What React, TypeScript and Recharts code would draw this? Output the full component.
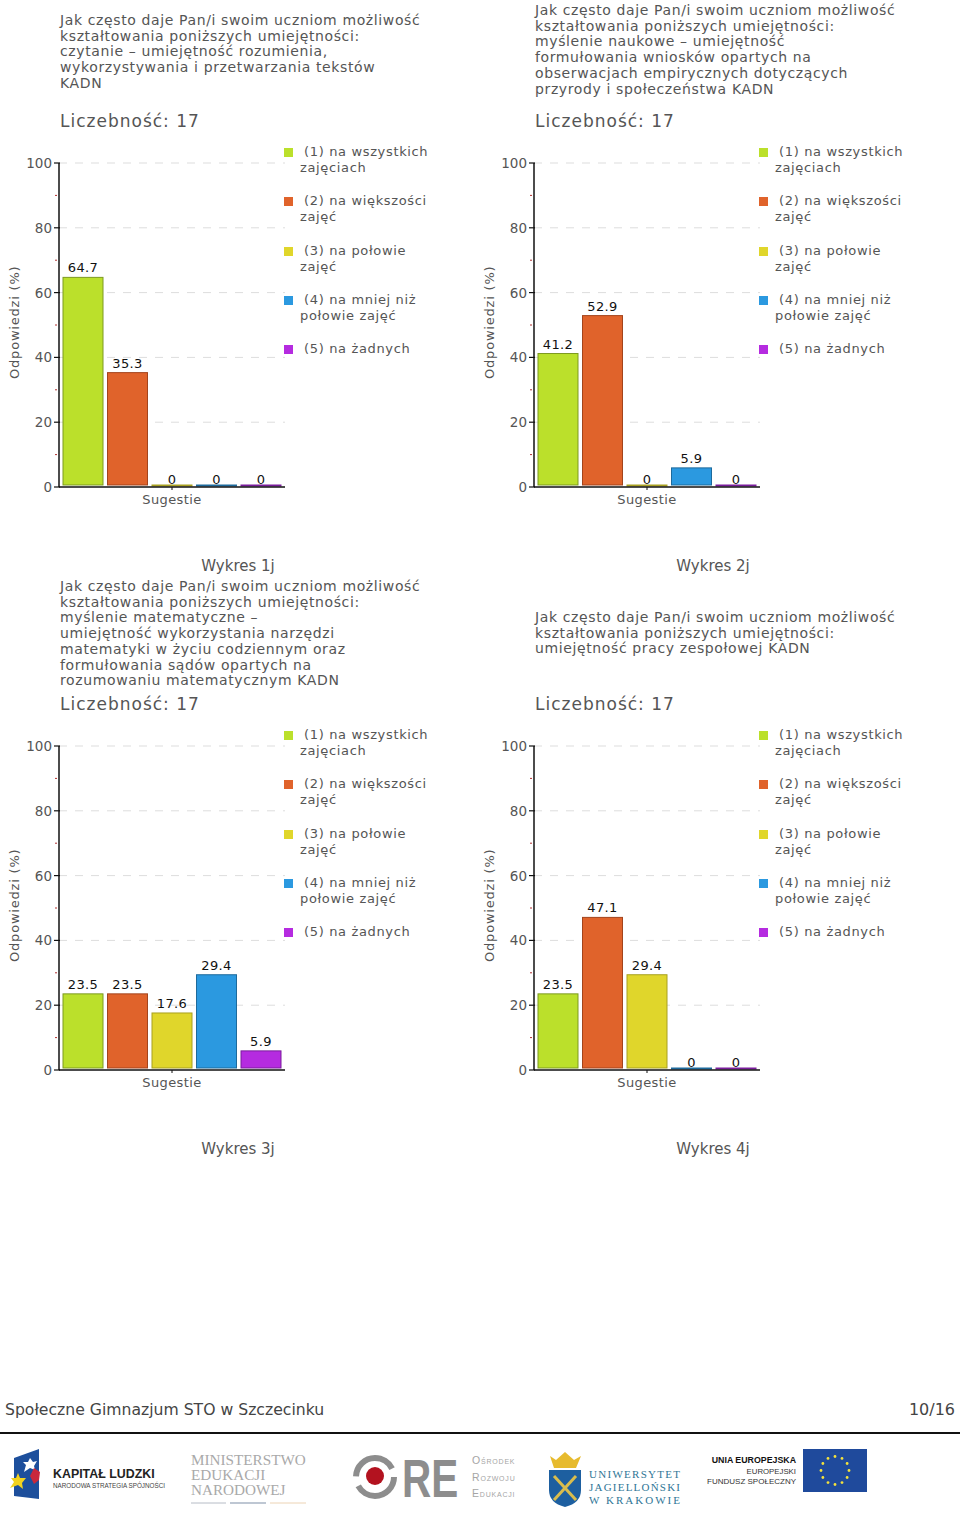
import React from "react";
import { BarChart, Bar, XAxis, YAxis, CartesianGrid, Legend, LabelList } from "recharts";

const categories = ["Sugestie"];
const seriesKeys = ["s1", "s2", "s3", "s4", "s5"];
const seriesNames = [
    "(1) na wszystkich zajęciach",
    "(2) na większości zajęć",
    "(3) na połowie zajęć",
    "(4) na mniej niż połowie zajęć",
    "(5) na żadnych",
];
const seriesFill = ["#bbe02b", "#e0632b", "#e0d62b", "#2b99e0", "#b52be0"];
const seriesStroke = ["#7d9a20", "#a3441c", "#a8a020", "#1d6a9c", "#7a1d9c"];

const chart1Values = [64.7, 35.3, 0, 0, 0];
const chart2Values = [41.2, 52.9, 0, 5.9, 0];
const chart3Values = [23.5, 23.5, 17.6, 29.4, 5.9];
const chart4Values = [23.5, 47.1, 29.4, 0, 0];

const chart1Title = [
    "Jak często daje Pan/i swoim uczniom możliwość",
    "kształtowania poniższych umiejętności:",
    "czytanie – umiejętność rozumienia,",
    "wykorzystywania i przetwarzania tekstów",
    "KADN",
];
const chart2Title = [
    "Jak często daje Pan/i swoim uczniom możliwość",
    "kształtowania poniższych umiejętności:",
    "myślenie naukowe – umiejętność",
    "formułowania wniosków opartych na",
    "obserwacjach empirycznych dotyczących",
    "przyrody i społeczeństwa KADN",
];
const chart3Title = [
    "Jak często daje Pan/i swoim uczniom możliwość",
    "kształtowania poniższych umiejętności:",
    "myślenie matematyczne –",
    "umiejętność wykorzystania narzędzi",
    "matematyki w życiu codziennym oraz",
    "formułowania sądów opartych na",
    "rozumowaniu matematycznym KADN",
];
const chart4Title = [
    "Jak często daje Pan/i swoim uczniom możliwość",
    "kształtowania poniższych umiejętności:",
    "umiejętność pracy zespołowej KADN",
];

const yTicks = [0, 10, 20, 30, 40, 50, 60, 70, 80, 90, 100];
const gridValues = [20, 40, 60, 80, 100];

const font = "'DejaVu Sans', Verdana, sans-serif";
const textColor = "#555";

function YTick({ x, y, payload }: any) {
    const major = payload.value % 20 === 0;
    if (!major) {
        return <line x1={x - 2} x2={x} y1={y} y2={y} stroke="#b03030" strokeWidth={1} />;
    }
    return (
        <g>
            <line x1={x - 3} x2={x + 3} y1={y} y2={y} stroke="#111" strokeWidth={1.2} />
            <text x={x - 5} y={y + 5} textAnchor="end" fontSize={13.5} fill={textColor} fontFamily={font}>
                {payload.value}
            </text>
        </g>
    );
}

// bars stop just short of the axis, as in the original
function BarShape({ x, y, width, height, fill, stroke }: any) {
    return <rect x={x} y={y} width={width} height={Math.max(height - 2, 1)} fill={fill} stroke={stroke} />;
}

function ValueLabel({ x, y, width, value }: any) {
    return (
        <text x={x + width / 2} y={value === 0 ? y - 1 : y - 5} textAnchor="middle" fontSize={13} fontFamily={font} fill="#111" letterSpacing={0.4}>
            {value}
        </text>
    );
}

function LegendBlock() {
    return (
        <div style={{ position: "relative", width: 195, height: 260, fontFamily: font, fontSize: 13, lineHeight: "16px", color: textColor, letterSpacing: 0.65 }}>
            {seriesNames.map((name, i) => (
                <div key={name} style={{ position: "absolute", left: 0, top: i * 49.3 }}>
                    <div style={{ position: "absolute", left: -1, top: 4, width: 9, height: 9, background: seriesFill[i] }} />
                    <div style={{ position: "absolute", left: 15, top: 0, width: 138, textIndent: 4, textAlign: "left" }}>{name}</div>
                </div>
            ))}
        </div>
    );
}

function Panel({ left, top, title, titleTop, values, caption }: any) {
    const row: any = { name: categories[0] };
    seriesKeys.forEach((k, i) => {
        row[k] = values[i];
    });
    return (
        <div style={{ position: "absolute", left, top, width: 480, height: 580 }}>
            {title.map((line: string, i: number) => (
                <div key={i} style={{ position: "absolute", left: 60, top: titleTop + i * 15.7, fontFamily: font, fontSize: 14, lineHeight: "16px", letterSpacing: 0.62, color: textColor, whiteSpace: "nowrap" }}>
                    {line}
                </div>
            ))}
            <div style={{ position: "absolute", left: 60, top: 111, fontFamily: font, fontSize: 17, lineHeight: "20px", color: textColor, letterSpacing: 1, whiteSpace: "nowrap" }}>
                Liczebność: 17
            </div>
            <div style={{ position: "absolute", left: 0, top: 140 }}>
                <BarChart
                    width={480}
                    height={380}
                    data={[row]}
                    margin={{ top: 23, right: 0, bottom: 0, left: 0 }}
                    barCategoryGap={4}
                    barGap={4.5}
                >
                    <CartesianGrid horizontal vertical={false} horizontalValues={gridValues} stroke="#ddd" strokeDasharray="8 8" />
                    <XAxis
                        dataKey="name"
                        height={33}
                        axisLine={{ stroke: "#111", strokeWidth: 1.5 }}
                        tickLine={{ stroke: "#111" }}
                        tickSize={3}
                        tickMargin={5}
                        tick={{ fill: textColor, fontSize: 13, fontFamily: font, letterSpacing: 0.4 }}
                    />
                    <YAxis
                        width={59}
                        domain={[0, 100]}
                        ticks={yTicks}
                        interval={0}
                        tickLine={false}
                        tickSize={0}
                        axisLine={{ stroke: "#111", strokeWidth: 1.5 }}
                        tick={<YTick />}
                        label={{ value: "Odpowiedzi (%)", angle: -90, position: "insideLeft", dx: 9, dy: 54, fill: textColor, fontSize: 13, fontFamily: font, letterSpacing: 0.8 }}
                    />
                    <Legend layout="vertical" align="right" verticalAlign="top" width={195} wrapperStyle={{ top: 4 }} content={() => <LegendBlock />} />
                    {seriesKeys.map((k, i) => (
                        <Bar key={k} dataKey={k} name={seriesNames[i]} fill={seriesFill[i]} stroke={seriesStroke[i]} minPointSize={2} shape={<BarShape />} isAnimationActive={false}>
                            <LabelList dataKey={k} content={<ValueLabel />} />
                        </Bar>
                    ))}
                </BarChart>
            </div>
            <div style={{ position: "absolute", left: 0, width: 476, top: 557, textAlign: "center", fontFamily: font, fontSize: 15, lineHeight: "18px", color: textColor }}>
                {caption}
            </div>
        </div>
    );
}

function Logos() {
    const euStars = [0, 1, 2, 3, 4, 5, 6, 7, 8, 9, 10, 11];
    const serif = "'Liberation Serif', serif";
    const sans = "'Liberation Sans', sans-serif";
    return (
        <svg width={960} height={88} viewBox="0 1433 960 88" style={{ position: "absolute", left: 0, top: 1433 }}>
            <polygon points="14,1458 39,1449 39,1499 14,1496" fill="#1d4f9c" />
            <polygon points="30,1458 33,1462 37,1461 34,1466 35,1470 30,1468 24,1472 26,1465 23,1462 28,1462" fill="#fff" />
            <polygon points="18,1473 20,1478 26,1478 22,1483 23,1489 18,1485 10,1488 14,1482 11,1478 16,1478" fill="#f2d21e" />
            <polygon points="34,1468 40,1472 39,1480 34,1484 30,1476" fill="#c8283c" />
            <text x={53} y={1478} fontFamily={sans} fontWeight={700} fontSize={12.4} fill="#222">KAPITAŁ LUDZKI</text>
            <text x={53} y={1488} fontFamily={sans} fontSize={6.3} fill="#444">NARODOWA STRATEGIA SPÓJNOŚCI</text>

            <g fontFamily={serif} fill="#a9a9a9">
                <text x={191} y={1465} fontSize={15.2}>MINISTERSTWO</text>
                <text x={191} y={1480} fontSize={15.2}>EDUKACJI</text>
                <text x={191} y={1495} fontSize={15.2}>NARODOWEJ</text>
            </g>
            <line x1={191} x2={226} y1={1503} y2={1503} stroke="#b6bcc6" strokeWidth={1} />
            <line x1={230} x2={266} y1={1503} y2={1503} stroke="#a9b4c4" strokeWidth={1.5} />
            <line x1={270} x2={306} y1={1503} y2={1503} stroke="#ecd3b4" strokeWidth={1} />

            <circle cx={375} cy={1477} r={19} fill="none" stroke="#8d8d8d" strokeWidth={6} strokeDasharray="50 10" />
            <circle cx={375} cy={1476} r={9} fill="#b3121f" />
            <text transform="translate(402 1497) scale(0.75 1)" fontFamily={sans} fontWeight={700} fontSize={54} fill="#8d8d8d">RE</text>
            <g fontFamily={sans} fontSize={10.5} fill="#a5a5a5" letterSpacing={0.8} style={{ fontVariant: "small-caps" }}>
                <text x={472} y={1464}>Ośrodek</text>
                <text x={472} y={1481}>Rozwoju</text>
                <text x={472} y={1497}>Edukacji</text>
            </g>

            <polygon points="550,1456 556,1460 565,1452 574,1460 581,1456 576,1468 554,1468" fill="#e7bb2e" />
            <path d="M549 1470 H581 V1490 Q581 1503 565 1507 Q549 1503 549 1490 Z" fill="#1d5fa0" />
            <line x1={554} y1={1476} x2={576} y2={1500} stroke="#d9bd4d" strokeWidth={3} />
            <line x1={576} y1={1476} x2={554} y2={1500} stroke="#d9bd4d" strokeWidth={3} />
            <g fontFamily={serif} fontSize={11} fill="#2f7596">
                <text x={589} y={1478} textLength={91}>UNIWERSYTET</text>
                <text x={589} y={1491} textLength={91}>JAGIELLOŃSKI</text>
                <text x={589} y={1504} textLength={91}>W KRAKOWIE</text>
            </g>

            <g fontFamily={sans} textAnchor="end" fill="#333">
                <text x={796} y={1463} fontSize={8.8} fontWeight={700} fill="#111">UNIA EUROPEJSKA</text>
                <text x={796} y={1474} fontSize={7.8}>EUROPEJSKI</text>
                <text x={796} y={1484} fontSize={8}>FUNDUSZ SPOŁECZNY</text>
            </g>
            <rect x={803} y={1449} width={64} height={43} fill="#1f4a9c" />
            {euStars.map((s) => (
                <circle key={s} cx={835 + 14 * Math.sin((s * Math.PI) / 6)} cy={1470.5 - 14 * Math.cos((s * Math.PI) / 6)} r={1.4} fill="#f4e23c" />
            ))}
        </svg>
    );
}

export default function App() {
    return (
        <div style={{ position: "absolute", left: 0, top: 0, width: 960, height: 1521, background: "#fff", overflow: "hidden" }}>
            <Panel left={0} top={0} title={chart1Title} titleTop={12} values={chart1Values} caption="Wykres 1j" />
            <Panel left={475} top={0} title={chart2Title} titleTop={2} values={chart2Values} caption="Wykres 2j" />
            <Panel left={0} top={583} title={chart3Title} titleTop={-5} values={chart3Values} caption="Wykres 3j" />
            <Panel left={475} top={583} title={chart4Title} titleTop={26} values={chart4Values} caption="Wykres 4j" />
            <div style={{ position: "absolute", left: 5, top: 1400, fontFamily: font, fontSize: 15.65, lineHeight: "20px", color: "#444" }}>
                Społeczne Gimnazjum STO w Szczecinku
            </div>
            <div style={{ position: "absolute", right: 5, top: 1400, fontFamily: font, fontSize: 16, lineHeight: "20px", color: "#444" }}>10/16</div>
            <div style={{ position: "absolute", left: 0, top: 1432, width: 960, height: 2, background: "#111" }} />
            <Logos />
        </div>
    );
}
